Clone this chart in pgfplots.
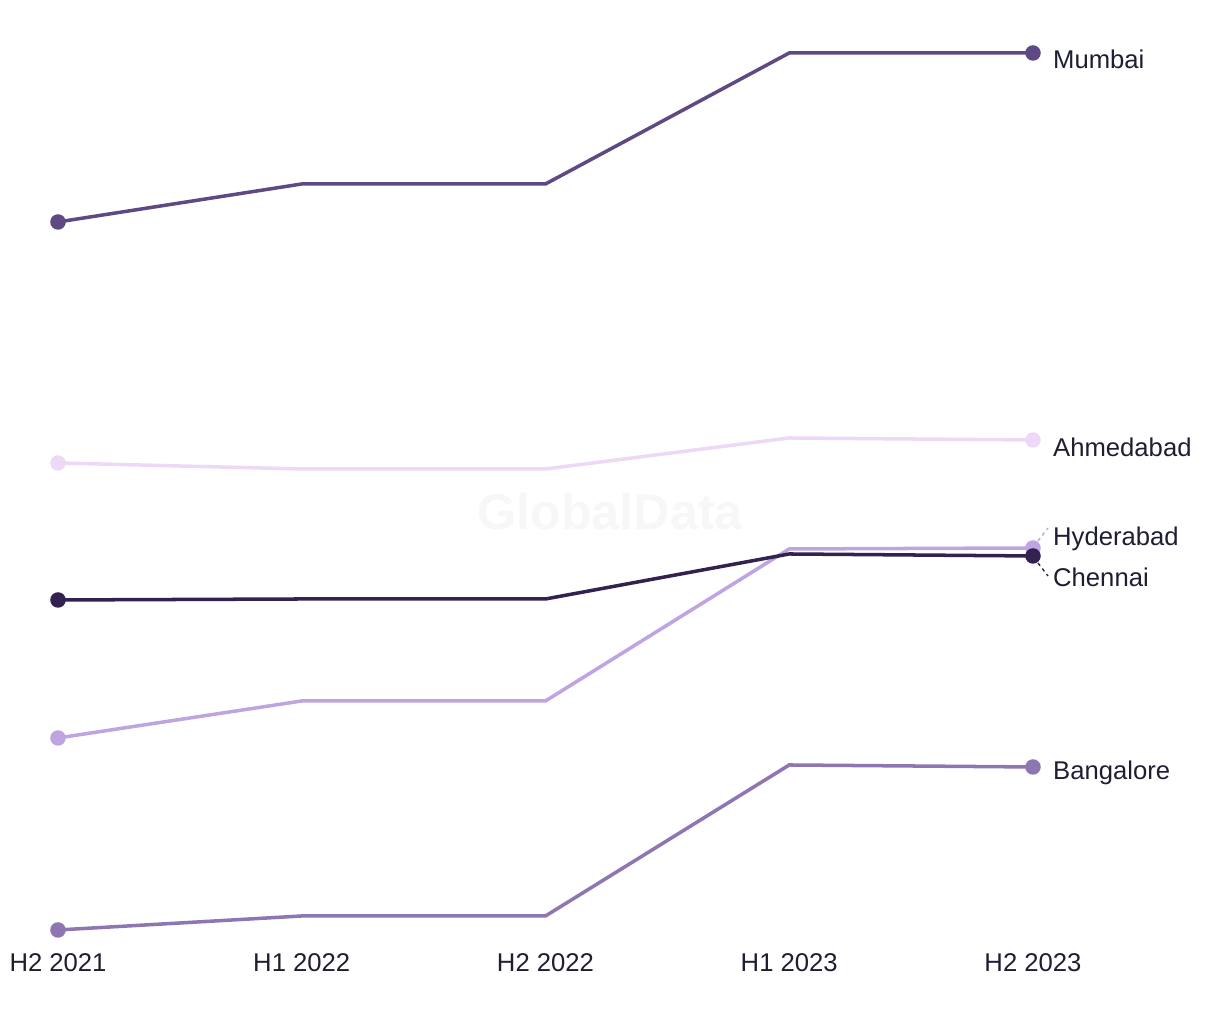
\documentclass[border=0pt]{standalone}
\usepackage{pgfplots}
\pgfplotsset{compat=1.18}
\usepackage{fontspec}
\setmainfont{Liberation Sans}
\definecolor{cMum}{RGB}{94,73,133}
\definecolor{cAhm}{RGB}{238,216,248}
\definecolor{cHyd}{RGB}{190,165,226}
\definecolor{cChe}{RGB}{51,33,79}
\definecolor{cBan}{RGB}{142,118,178}
\definecolor{ctext}{RGB}{30,30,50}
\definecolor{cwm}{RGB}{247,247,247}
\tikzset{
  lab/.style={anchor=west, text=ctext, inner sep=0pt, xshift=1.95mm, font=\fontsize{7.3pt}{9pt}\selectfont},
  tl/.style={anchor=base, text=ctext, inner sep=0pt, yshift=-4.2mm, font=\fontsize{7.3pt}{9pt}\selectfont},
}
\begin{document}
\begin{tikzpicture}
\path[use as bounding box] (-0.58cm,-0.9cm) rectangle (11.62cm,9.3cm);
\begin{axis}[
  at={(0,0)}, anchor=south west,
  scale only axis, width=9.75cm, height=8.77cm,
  xmin=0, xmax=4, ymin=90, ymax=967,
  axis lines=none, clip=false,
  xtick=\empty, ytick=\empty,
  every axis plot/.append style={line width=1pt, mark=*, mark size=1.7pt},
]
\node[text=cwm, font=\fontsize{14.3pt}{16pt}\selectfont\bfseries] at (axis cs:2.265,508) {GlobalData};
\addplot[color=cAhm, mark repeat=4] coordinates {(0,557) (1,551) (2,551) (3,582) (4,580)};
\addplot[color=cMum, mark repeat=4] coordinates {(0,798) (1,836) (2,836) (3,967) (4,967)};
\addplot[color=cHyd, mark repeat=4] coordinates {(0,282) (1,319) (2,319) (3,471) (4,472)};
\addplot[color=cChe, mark repeat=4] coordinates {(0,420) (1,421) (2,421) (3,466) (4,464)};
\addplot[color=cBan, mark repeat=4] coordinates {(0,90) (1,104) (2,104) (3,255) (4,253)};
\draw[cHyd, dash pattern=on 1pt off 1pt, line width=0.4pt] (axis cs:4,472) ++(0.05cm,0.07cm) -- ++(0.1cm,0.13cm);
\draw[cChe, dash pattern=on 1pt off 1pt, line width=0.4pt] (axis cs:4,464) ++(0.05cm,-0.07cm) -- ++(0.1cm,-0.13cm);
\node[lab] at (axis cs:4,961) {Mumbai};
\node[lab] at (axis cs:4,573) {Ahmedabad};
\node[lab] at (axis cs:4,481) {Hyderabad};
\node[lab] at (axis cs:4,443) {Chennai};
\node[lab] at (axis cs:4,247) {Bangalore};
\node[tl] at (axis cs:0,90) {H2 2021};
\node[tl] at (axis cs:1,90) {H1 2022};
\node[tl] at (axis cs:2,90) {H2 2022};
\node[tl] at (axis cs:3,90) {H1 2023};
\node[tl] at (axis cs:4,90) {H2 2023};
\end{axis}
\end{tikzpicture}
\end{document}
